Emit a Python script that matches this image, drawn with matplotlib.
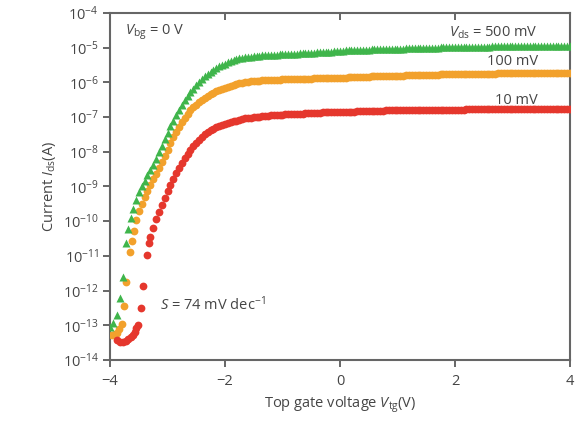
import numpy as np
import matplotlib
matplotlib.use("Agg")
import matplotlib.pyplot as plt

plt.rcParams["font.family"] = ["Open Sans", "DejaVu Sans"]
plt.rcParams["mathtext.fontset"] = "custom"
plt.rcParams["mathtext.rm"] = "Open Sans"
plt.rcParams["mathtext.it"] = "Open Sans:italic"
plt.rcParams["mathtext.bf"] = "Open Sans:bold"

# Shared gate sweep for the on-state (V), 0.05 V step from -2.40 to 4.00
v_sweep = [round(-2.4 + 0.05 * i, 2) for i in range(129)]

# ---- V_ds = 500 mV (log10 of I_ds in A) ----
v_500_sub = [-4.00, -3.94, -3.87, -3.82, -3.78, -3.72, -3.68, -3.64, -3.60, -3.55,
             -3.50, -3.45, -3.40, -3.35, -3.30, -3.25, -3.20, -3.15, -3.10, -3.05,
             -3.00, -2.95, -2.90, -2.85, -2.80, -2.75, -2.70, -2.65, -2.60, -2.55,
             -2.50, -2.45]
logi_500_sub = [-13.04, -12.94, -12.70, -12.20, -11.60, -10.62, -10.22, -9.92, -9.66, -9.40,
                -9.17, -9.00, -8.83, -8.67, -8.52, -8.37, -8.21, -8.02, -7.83, -7.64,
                -7.45, -7.27, -7.10, -6.94, -6.79, -6.65, -6.52, -6.40, -6.29, -6.18,
                -6.08, -5.99]
logi_500_on = [-5.91, -5.83, -5.76, -5.70, -5.64, -5.59, -5.54, -5.50, -5.46, -5.42,
               -5.39, -5.36, -5.33, -5.31, -5.29, -5.28, -5.27, -5.26, -5.25, -5.24,
               -5.23, -5.22, -5.22, -5.21, -5.21, -5.20, -5.20, -5.19, -5.19, -5.18,
               -5.18, -5.18, -5.17, -5.17, -5.16, -5.16, -5.15, -5.15, -5.14, -5.14,
               -5.13, -5.13, -5.12, -5.12, -5.11, -5.11, -5.10, -5.10, -5.09, -5.09,
               -5.08, -5.08, -5.08, -5.07, -5.07, -5.06, -5.06, -5.06, -5.06, -5.05,
               -5.05, -5.05, -5.05, -5.04, -5.04, -5.04, -5.04, -5.03, -5.03, -5.03,
               -5.03, -5.02, -5.02, -5.02, -5.02, -5.01, -5.01, -5.01, -5.01, -5.00,
               -5.00, -5.00, -5.00, -4.99, -4.99, -4.99, -4.99, -4.98, -4.98, -4.98,
               -4.98, -4.98, -4.98, -4.97, -4.97, -4.97, -4.97, -4.97, -4.97, -4.97,
               -4.97, -4.96, -4.96, -4.96, -4.96, -4.96, -4.96, -4.96, -4.96, -4.96,
               -4.96, -4.96, -4.95, -4.95, -4.95, -4.95, -4.95, -4.95, -4.95, -4.95,
               -4.95, -4.95, -4.95, -4.95, -4.95, -4.95, -4.95, -4.95, -4.95]

# ---- V_ds = 100 mV ----
v_100_sub = [-3.97, -3.92, -3.88, -3.84, -3.80, -3.76, -3.72, -3.66, -3.62, -3.58,
             -3.54, -3.50, -3.45, -3.40, -3.35, -3.30, -3.25, -3.20, -3.15, -3.10,
             -3.05, -3.00, -2.95, -2.90, -2.85, -2.80, -2.75, -2.70, -2.65, -2.60,
             -2.55, -2.50, -2.45]
logi_100_sub = [-13.28, -13.26, -13.22, -13.12, -12.97, -12.45, -11.74, -10.90, -10.58, -10.28,
                -9.98, -9.72, -9.50, -9.30, -9.12, -8.95, -8.79, -8.63, -8.47, -8.30,
                -8.12, -7.94, -7.76, -7.58, -7.42, -7.28, -7.14, -7.02, -6.91, -6.81,
                -6.72, -6.64, -6.57]
logi_100_on = [-6.50, -6.44, -6.39, -6.34, -6.30, -6.26, -6.22, -6.18, -6.15, -6.12,
               -6.09, -6.07, -6.05, -6.03, -6.01, -5.99, -5.98, -5.97, -5.96, -5.95,
               -5.95, -5.94, -5.94, -5.93, -5.93, -5.92, -5.92, -5.92, -5.91, -5.91,
               -5.91, -5.90, -5.90, -5.90, -5.90, -5.89, -5.89, -5.89, -5.89, -5.88,
               -5.88, -5.88, -5.88, -5.87, -5.87, -5.87, -5.87, -5.86, -5.86, -5.86,
               -5.86, -5.85, -5.85, -5.85, -5.85, -5.84, -5.84, -5.84, -5.84, -5.83,
               -5.83, -5.83, -5.83, -5.82, -5.82, -5.82, -5.82, -5.81, -5.81, -5.81,
               -5.81, -5.80, -5.80, -5.80, -5.80, -5.79, -5.79, -5.79, -5.79, -5.78,
               -5.78, -5.78, -5.78, -5.77, -5.77, -5.77, -5.77, -5.76, -5.76, -5.76,
               -5.76, -5.76, -5.76, -5.75, -5.75, -5.75, -5.75, -5.75, -5.75, -5.75,
               -5.75, -5.75, -5.75, -5.74, -5.74, -5.74, -5.74, -5.74, -5.74, -5.74,
               -5.74, -5.74, -5.74, -5.74, -5.74, -5.74, -5.74, -5.74, -5.74, -5.74,
               -5.74, -5.74, -5.74, -5.74, -5.74, -5.74, -5.74, -5.74, -5.74]

# ---- V_ds = 10 mV ----
v_10_sub = [-3.88, -3.83, -3.78, -3.73, -3.68, -3.64, -3.60, -3.57, -3.54, -3.51,
            -3.46, -3.42, -3.36, -3.33, -3.30, -3.25, -3.20, -3.15, -3.10, -3.05,
            -3.00, -2.95, -2.90, -2.85, -2.80, -2.75, -2.70, -2.65, -2.60, -2.55,
            -2.50, -2.45]
logi_10_sub = [-13.42, -13.47, -13.48, -13.45, -13.40, -13.34, -13.27, -13.18, -13.08, -12.98,
               -12.51, -11.87, -10.97, -10.62, -10.45, -10.20, -9.95, -9.73, -9.52, -9.32,
               -9.13, -8.95, -8.78, -8.62, -8.46, -8.32, -8.19, -8.07, -7.95, -7.84,
               -7.74, -7.65]
logi_10_on = [-7.57, -7.50, -7.44, -7.38, -7.33, -7.29, -7.25, -7.22, -7.19, -7.16,
              -7.14, -7.12, -7.10, -7.08, -7.06, -7.04, -7.03, -7.02, -7.01, -7.00,
              -6.99, -6.98, -6.97, -6.96, -6.95, -6.94, -6.94, -6.93, -6.93, -6.92,
              -6.92, -6.92, -6.91, -6.91, -6.90, -6.90, -6.89, -6.89, -6.88, -6.88,
              -6.87, -6.87, -6.86, -6.86, -6.86, -6.86, -6.85, -6.85, -6.85, -6.85,
              -6.84, -6.84, -6.84, -6.84, -6.83, -6.83, -6.83, -6.83, -6.82, -6.82,
              -6.82, -6.82, -6.82, -6.82, -6.81, -6.81, -6.81, -6.81, -6.81, -6.81,
              -6.80, -6.80, -6.80, -6.80, -6.80, -6.80, -6.80, -6.80, -6.79, -6.79,
              -6.79, -6.79, -6.79, -6.79, -6.79, -6.79, -6.79, -6.79, -6.79, -6.79,
              -6.79, -6.79, -6.78, -6.78, -6.78, -6.78, -6.78, -6.78, -6.78, -6.78,
              -6.78, -6.78, -6.78, -6.78, -6.78, -6.78, -6.78, -6.78, -6.78, -6.78,
              -6.78, -6.78, -6.78, -6.78, -6.78, -6.77, -6.77, -6.77, -6.77, -6.77,
              -6.77, -6.77, -6.77, -6.77, -6.77, -6.77, -6.77, -6.77, -6.77]

x_ticks = [-4, -2, 0, 2, 4]
x_ticklabels = ["\u22124", "\u22122", "0", "2", "4"]
y_decades = list(range(-14, -3))

c_green = "#3fb54b"
c_orange = "#f2a12c"
c_red = "#e5372d"
c_axis = "#666666"
c_text = "#454545"
fs = 10.5

fig = plt.figure(figsize=(5.87, 4.26), dpi=100)
ax = fig.add_axes([0.1874, 0.155, 0.7836, 0.8145])


def series(v_sub, l_sub, l_on):
    v = np.array(v_sub + v_sweep)
    i = 10.0 ** np.array(l_sub + l_on)
    return v, i


v, i = series(v_100_sub, logi_100_sub, logi_100_on)
ax.plot(v, i, "o", ms=5.6, color=c_orange, mec="none", zorder=3)
v, i = series(v_500_sub, logi_500_sub, logi_500_on)
ax.plot(v, i, "^", ms=6.2, color=c_green, mec="none", zorder=4)
v, i = series(v_10_sub, logi_10_sub, logi_10_on)
ax.plot(v, i, "o", ms=5.6, color=c_red, mec="none", zorder=5)

ax.set_yscale("log")
ax.set_xlim(-4, 4)
ax.set_ylim(1e-14, 1e-4)
ax.set_xticks(x_ticks)
ax.set_xticklabels(x_ticklabels)
ax.set_yticks([10.0 ** d for d in y_decades])
ax.set_yticklabels([r"$10^{-%d}$" % -d for d in y_decades])
ax.yaxis.set_minor_locator(matplotlib.ticker.NullLocator())

for s in ax.spines.values():
    s.set_color(c_axis)
    s.set_linewidth(1.5)

ax.tick_params(axis="both", colors=c_axis, labelcolor=c_text, labelsize=fs,
               width=1.4, length=5, direction="out")
ax.tick_params(axis="x", pad=5)
ax.tick_params(axis="y", pad=3)

# inward ticks along the top edge
top = ax.secondary_xaxis("top")
top.set_xticks([-2, 0, 2])
top.tick_params(direction="in", length=5, width=1.4, colors=c_axis, labeltop=False)
top.spines["top"].set_visible(False)

ax.set_xlabel(r"Top gate voltage $\it{V}_{\rm tg}$(V)", fontsize=fs, color=c_text, labelpad=4)
ax.set_ylabel(r"Current $\it{I}_{\rm ds}$(A)", fontsize=fs, color=c_text, labelpad=3)

kw = dict(transform=ax.transAxes, fontsize=fs, color=c_text)
ax.text(0.033, 0.945, r"$\it{V}_{\rm bg}$ = 0 V", ha="left", va="center", **kw)
ax.text(0.93, 0.942, r"$\it{V}_{\rm ds}$ = 500 mV", ha="right", va="center", **kw)
ax.text(0.93, 0.859, "100 mV", ha="right", va="center", **kw)
ax.text(0.93, 0.749, "10 mV", ha="right", va="center", **kw)
ax.text(0.109, 0.158, r"$\it{S}$ = 74 mV dec$^{-1}$", ha="left", va="center", **kw)

fig.savefig("out.png", dpi=100)
